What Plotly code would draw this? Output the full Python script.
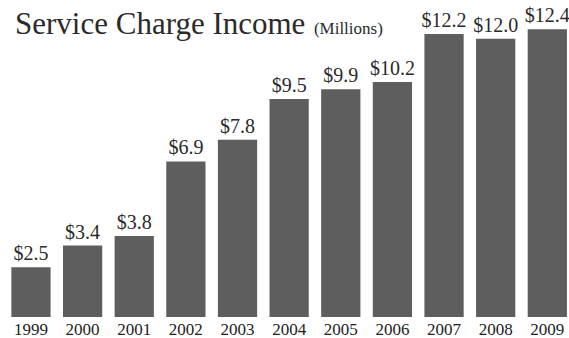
import plotly.graph_objects as go

# Service charge income by year, in millions of dollars
years = ["1999", "2000", "2001", "2002", "2003", "2004",
         "2005", "2006", "2007", "2008", "2009"]
income = [2.5, 3.4, 3.8, 6.9, 7.8, 9.5, 9.9, 10.2, 12.2, 12.0, 12.4]

SERIF = "Liberation Serif, DejaVu Serif, serif"

fig = go.Figure(
    go.Bar(
        x=years,
        y=income,
        marker=dict(color="#5e5e5e", line=dict(width=0)),
        text=[f"${v:.1f}" for v in income],
        textposition="outside",
        constraintext="none",
        cliponaxis=False,
        textfont=dict(family=SERIF, size=20, color="#2a2a2a"),
        width=0.76,
    )
)

fig.update_layout(
    width=569,
    height=338,
    margin=dict(l=5, r=0, t=28, b=21, autoexpand=False),
    paper_bgcolor="white",
    plot_bgcolor="white",
    showlegend=False,
    xaxis=dict(
        range=[-0.503, 10.42],
        automargin=False,
        showgrid=False,
        showline=False,
        zeroline=False,
        ticks="",
        tickfont=dict(family=SERIF, size=17, color="#222"),
    ),
    yaxis=dict(
        range=[0.43, 12.45],
        automargin=False,
        visible=False,
        showgrid=False,
        zeroline=False,
    ),
    uniformtext=dict(mode=False),
)

fig.add_annotation(
    xref="paper", yref="paper", x=0.0, y=1.0,
    xanchor="left", yanchor="top",
    xshift=8, yshift=24,
    text="<span style='font-size:31px'>Service Charge Income</span>"
         "<span style='font-size:17px'>  (Millions)</span>",
    showarrow=False,
    font=dict(family=SERIF, size=31, color="#2a2a2a"),
)

fig.write_html("out.html")
